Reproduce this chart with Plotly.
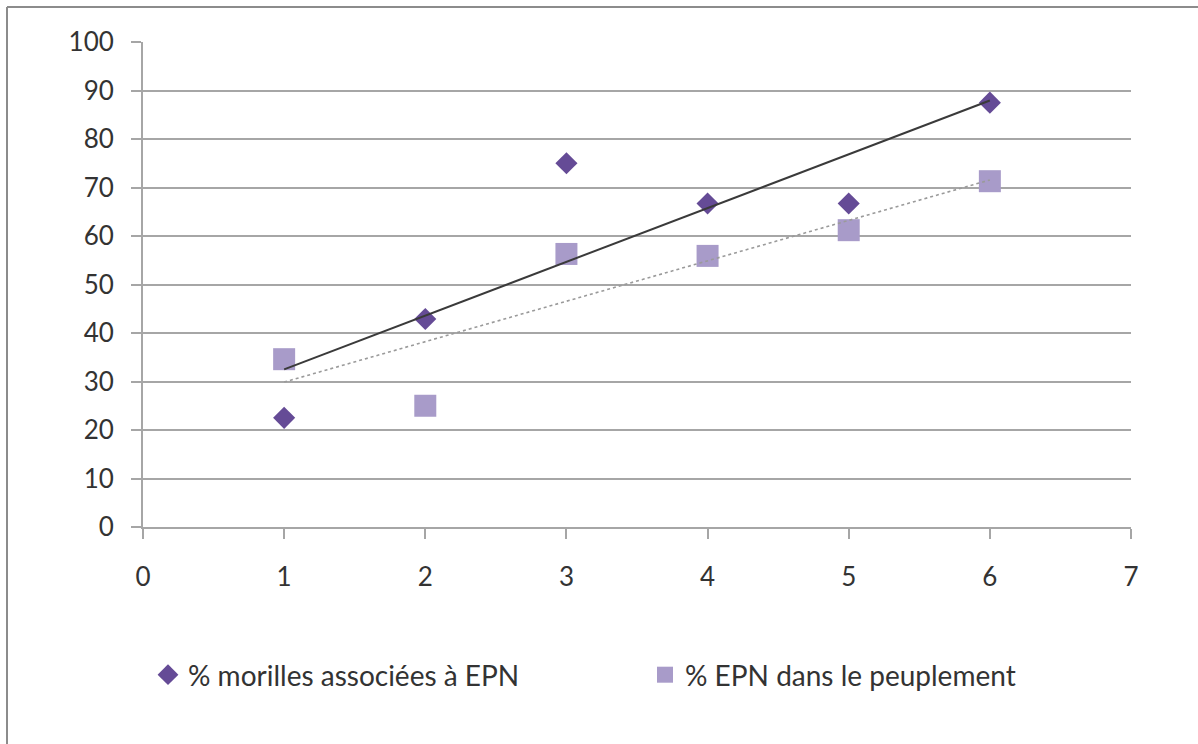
import numpy as np
import plotly.graph_objects as go

# Site index (x) and the two percentages measured on each site
sites = [1, 2, 3, 4, 5, 6]
morilles_epn = [22.5, 42.9, 75.0, 66.7, 66.7, 87.5]
epn_peuplement = [34.6, 25.0, 56.3, 55.9, 61.2, 71.3]

x_ticks = [0, 1, 2, 3, 4, 5, 6, 7]
y_ticks = [0, 10, 20, 30, 40, 50, 60, 70, 80, 90, 100]

name_morilles = "% morilles associées à EPN"
name_epn = "% EPN dans le peuplement"

col_diamond = "#654b96"
col_square = "#a89bc9"
grid_col = "#a6a6a6"
text_col = "#333333"
font_family = "Lato, 'Open Sans', sans-serif"

W, H = 1198, 744
L, R, T, B = 143, 67, 42, 217
PW, PH = W - L - R, H - T - B


def linear_trend(x, y):
    slope, intercept = np.polyfit(x, y, 1)
    xs = np.array([min(x), max(x)], dtype=float)
    return xs, slope * xs + intercept


def px_to_paper_x(px):
    return (px - L) / PW


def px_to_paper_y(py):
    return (H - B - py) / PH


fig = go.Figure()

fig.add_trace(go.Scatter(x=sites, y=morilles_epn, mode="markers",
                         name=name_morilles, legend="legend",
                         marker=dict(symbol="diamond", size=17,
                                     color=col_diamond, line=dict(width=0))))
fig.add_trace(go.Scatter(x=sites, y=epn_peuplement, mode="markers",
                         name=name_epn, legend="legend2",
                         marker=dict(symbol="square", size=22,
                                     color=col_square, line=dict(width=0))))

# Linear trend lines, drawn over the markers
tx, ty = linear_trend(sites, morilles_epn)
fig.add_trace(go.Scatter(x=tx, y=ty, mode="lines", showlegend=False,
                         hoverinfo="skip",
                         line=dict(color="#3a3a3a", width=2)))
tx2, ty2 = linear_trend(sites, epn_peuplement)
fig.add_trace(go.Scatter(x=tx2, y=ty2, mode="lines", showlegend=False,
                         hoverinfo="skip",
                         line=dict(color="#9a9a9a", width=1.6, dash="dot")))

axis_common = dict(
    showline=True, linecolor=grid_col, linewidth=2,
    ticks="outside", ticklen=10, tickwidth=2, tickcolor=grid_col,
    tickfont=dict(family=font_family, size=26, color=text_col),
    zeroline=False, fixedrange=True,
)

legend_common = dict(
    orientation="h", yanchor="middle", xanchor="left",
    y=px_to_paper_y(675), itemwidth=30,
    font=dict(family=font_family, size=28, color=text_col),
    bgcolor="rgba(0,0,0,0)",
)

fig.update_layout(
    width=W, height=H,
    margin=dict(l=L, r=R, t=T, b=B),
    paper_bgcolor="white", plot_bgcolor="white",
    font=dict(family=font_family, color=text_col, size=26),
    xaxis=dict(range=[0, 7], tickvals=x_ticks, showgrid=False,
               ticklabelstandoff=16, **axis_common),
    yaxis=dict(range=[0, 100], tickvals=y_ticks, showgrid=True,
               gridcolor=grid_col, gridwidth=2,
               ticklabelstandoff=12, **axis_common),
    legend=dict(x=px_to_paper_x(148), **legend_common),
    legend2=dict(x=px_to_paper_x(645), **legend_common),
    showlegend=True,
)

# Chart-area frame (left and top edges)
fx = px_to_paper_x(7)
fy = px_to_paper_y(7)
fig.add_shape(type="line", xref="paper", yref="paper",
              x0=fx, x1=fx, y0=fy, y1=px_to_paper_y(H + 10),
              line=dict(color="#8c8c8c", width=2))
fig.add_shape(type="line", xref="paper", yref="paper",
              x0=fx, x1=px_to_paper_x(W + 10), y0=fy, y1=fy,
              line=dict(color="#8c8c8c", width=2))

fig.write_html("out.html")
